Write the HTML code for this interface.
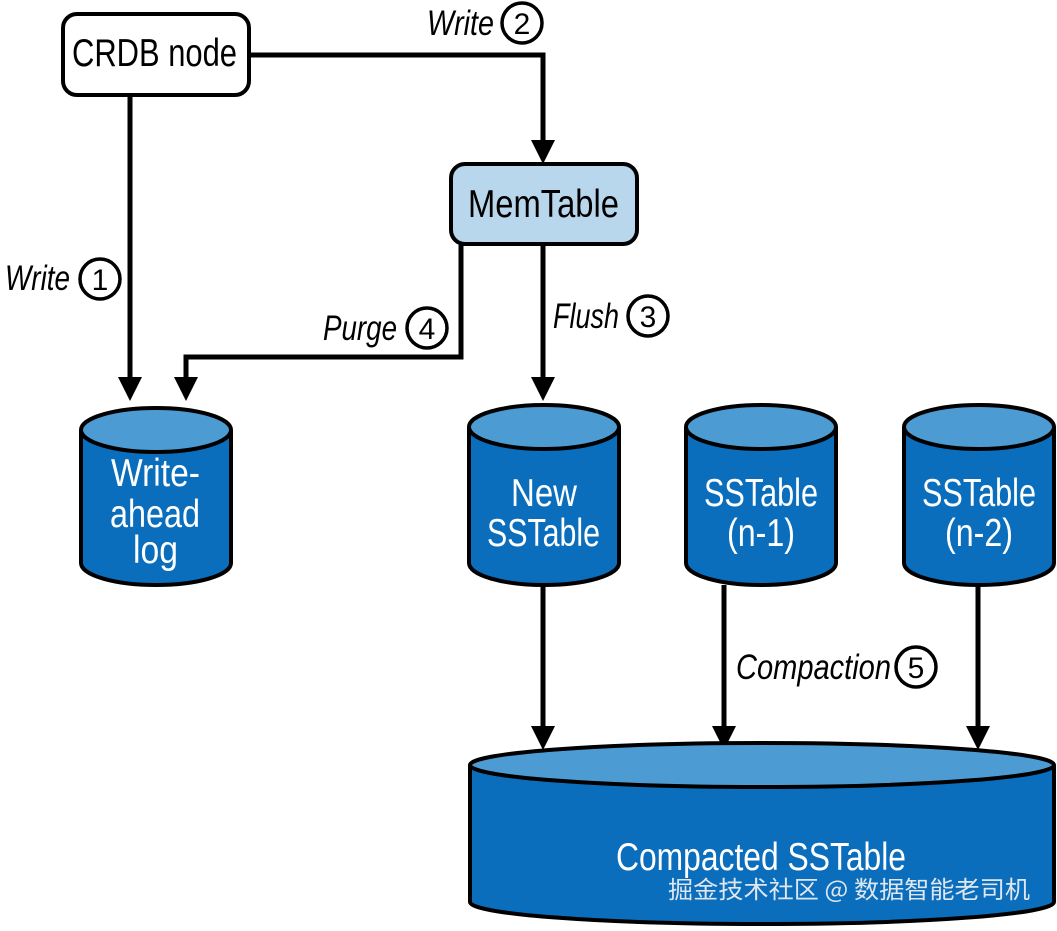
<!DOCTYPE html>
<html><head><meta charset="utf-8"><style>
html,body{margin:0;padding:0;background:#fff;}
svg{display:block;}
text{font-family:"Liberation Sans Narrow","Liberation Sans",sans-serif;}
</style></head><body>
<svg width="1057" height="931" viewBox="0 0 1057 931" xmlns="http://www.w3.org/2000/svg">
<defs>
<g id="ah"><polygon points="-12,0 12,0 0,24" fill="#000"/></g>
</defs>
<g stroke="#000" stroke-width="5" fill="none" stroke-linejoin="miter">
<polyline points="130,95 130,380"/>
<polyline points="249,55 543,55 543,142"/>
<polyline points="543,245 543,380"/>
<polyline points="461,245 461,357 186,357 186,380"/>
<polyline points="543,585 543,728"/>
<polyline points="724,585 724,728"/>
<polyline points="978,585 978,728"/>
</g>
<use href="#ah" x="130" y="377"/>
<use href="#ah" x="186" y="377"/>
<use href="#ah" x="543" y="140"/>
<use href="#ah" x="543" y="377"/>
<use href="#ah" x="543" y="726"/>
<use href="#ah" x="724" y="726"/>
<use href="#ah" x="978" y="726"/>

<rect x="63" y="14" width="186" height="81" rx="14" fill="#fff" stroke="#000" stroke-width="4"/>
<text x="72" y="66" font-size="39" textLength="165" lengthAdjust="spacingAndGlyphs">CRDB node</text>
<rect x="451" y="164" width="186" height="80" rx="14" fill="#b8d6ec" stroke="#000" stroke-width="4"/>
<text x="468" y="217" font-size="39" textLength="151" lengthAdjust="spacingAndGlyphs">MemTable</text>

<g stroke="#000" stroke-width="4">
<path d="M81,430 L81,563 A75,22 0 0 0 231,563 L231,430" fill="#0a6ebd"/>
<ellipse cx="156" cy="430" rx="75" ry="22" fill="#4d9bd3"/>
<path d="M469,427 L469,563 A75,22 0 0 0 619,563 L619,427" fill="#0a6ebd"/>
<ellipse cx="544" cy="427" rx="75" ry="22" fill="#4d9bd3"/>
<path d="M686,427 L686,563 A75,22 0 0 0 836,563 L836,427" fill="#0a6ebd"/>
<ellipse cx="761" cy="427" rx="75" ry="22" fill="#4d9bd3"/>
<path d="M904,427 L904,563 A75,22 0 0 0 1054,563 L1054,427" fill="#0a6ebd"/>
<ellipse cx="979" cy="427" rx="75" ry="22" fill="#4d9bd3"/>
<path d="M470,765 L470,902 A292,22 0 0 0 1054,902 L1054,765" fill="#0a6ebd"/>
<ellipse cx="762" cy="765" rx="292" ry="22" fill="#4d9bd3"/>
</g>
<g fill="#fff" font-size="39">
<text x="111" y="486" textLength="89" lengthAdjust="spacingAndGlyphs">Write-</text>
<text x="110" y="527" textLength="90" lengthAdjust="spacingAndGlyphs">ahead</text>
<text x="133" y="563" textLength="45" lengthAdjust="spacingAndGlyphs">log</text>
<text x="511" y="506" textLength="66" lengthAdjust="spacingAndGlyphs">New</text>
<text x="487" y="546" textLength="113" lengthAdjust="spacingAndGlyphs">SSTable</text>
<text x="704" y="506" textLength="114" lengthAdjust="spacingAndGlyphs">SSTable</text>
<text x="727" y="546" textLength="68" lengthAdjust="spacingAndGlyphs">(n-1)</text>
<text x="922" y="506" textLength="114" lengthAdjust="spacingAndGlyphs">SSTable</text>
<text x="945" y="546" textLength="68" lengthAdjust="spacingAndGlyphs">(n-2)</text>
<text x="616" y="870" textLength="290" lengthAdjust="spacingAndGlyphs">Compacted SSTable</text>
</g>
<text x="668" y="898" font-size="24" fill="#dfe6ee" style="font-family:'Noto Sans CJK SC',sans-serif" textLength="362" lengthAdjust="spacingAndGlyphs">掘金技术社区 @ 数据智能老司机</text>

<g font-size="35" font-style="italic">
<text x="5" y="290" textLength="65" lengthAdjust="spacingAndGlyphs">Write</text>
<text x="427" y="35" textLength="67" lengthAdjust="spacingAndGlyphs">Write</text>
<text x="323" y="340" textLength="74" lengthAdjust="spacingAndGlyphs">Purge</text>
<text x="553" y="328" textLength="66" lengthAdjust="spacingAndGlyphs">Flush</text>
<text x="736" y="679" textLength="155" lengthAdjust="spacingAndGlyphs">Compaction</text>
</g>
<g fill="#fff" stroke="#000" stroke-width="3.5">
<circle cx="100" cy="279" r="20"/>
<circle cx="522" cy="23" r="20"/>
<circle cx="427" cy="328" r="20"/>
<circle cx="648" cy="316" r="20"/>
<circle cx="916" cy="667" r="20"/>
</g>
<g font-size="30" text-anchor="middle">
<text x="100" y="290">1</text>
<text x="522" y="34">2</text>
<text x="427" y="339">4</text>
<text x="648" y="327">3</text>
<text x="916" y="678">5</text>
</g>
</svg>
</body></html>
